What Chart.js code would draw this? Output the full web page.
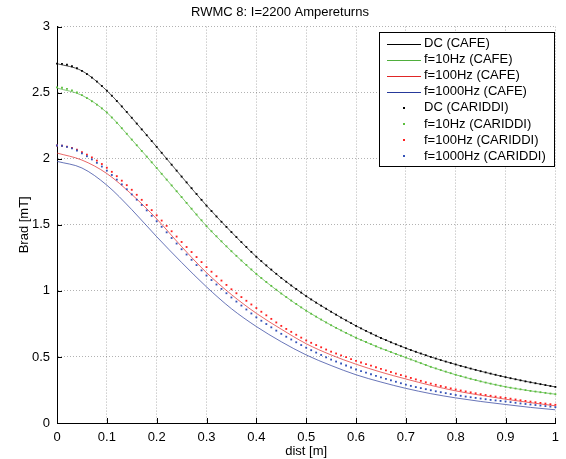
<!DOCTYPE html>
<html><head><meta charset="utf-8">
<script src="https://cdn.jsdelivr.net/npm/chart.js@4.4.1/dist/chart.umd.min.js"></script>
<style>html,body{margin:0;padding:0;background:#fff;} canvas{display:block;}</style>
</head><body>
<canvas id="c" width="566" height="459"></canvas>
<script>
const titleText = 'RWMC 8: I=2200 Ampereturns';
const xTitle = 'dist [m]';
const yTitle = 'Brad [mT]';
const xTickLabels = ['0','0.1','0.2','0.3','0.4','0.5','0.6','0.7','0.8','0.9','1'];
const yTickLabels = ['0','0.5','1','1.5','2','2.5','3'];
const seriesNames = ['DC (CAFE)','f=10Hz (CAFE)','f=100Hz (CAFE)','f=1000Hz (CAFE)',
  'DC (CARIDDI)','f=10Hz (CARIDDI)','f=100Hz (CARIDDI)','f=1000Hz (CARIDDI)'];

// CAFE curves (continuous lines)
const distCafe = [0,0.05,0.1,0.15,0.2,0.25,0.3,0.35,0.4,0.45,0.5,0.55,0.6,0.65,0.7,0.75,0.8,0.85,0.9,0.95,1];
const dcCafe    = [2.72,2.665,2.515,2.31,2.09,1.865,1.645,1.445,1.258,1.098,0.96,0.842,0.735,0.643,0.566,0.5,0.443,0.392,0.347,0.308,0.273];
const f10Cafe   = [2.535,2.48,2.35,2.145,1.93,1.71,1.49,1.30,1.128,0.98,0.85,0.74,0.645,0.565,0.495,0.425,0.365,0.315,0.274,0.243,0.218];
const f100Cafe  = [2.043,1.99,1.888,1.73,1.545,1.335,1.138,0.972,0.83,0.71,0.60,0.515,0.445,0.385,0.333,0.285,0.243,0.21,0.18,0.154,0.13];
const f1000Cafe = [1.98,1.93,1.80,1.615,1.41,1.215,1.03,0.865,0.73,0.615,0.515,0.435,0.365,0.31,0.262,0.222,0.19,0.163,0.14,0.118,0.10];

// CARIDDI results (dots)
const distCariddi = [0,0.01,0.02,0.03,0.04,0.05,0.06,0.07,0.08,0.09,
  0.1,0.11,0.12,0.13,0.14,0.15,0.16,0.17,0.18,0.19,
  0.2,0.21,0.22,0.23,0.24,0.25,0.26,0.27,0.28,0.29,
  0.3,0.31,0.32,0.33,0.34,0.35,0.36,0.37,0.38,0.39,
  0.4,0.41,0.42,0.43,0.44,0.45,0.46,0.47,0.48,0.49,
  0.5,0.51,0.52,0.53,0.54,0.55,0.56,0.57,0.58,0.59,
  0.6,0.61,0.62,0.63,0.64,0.65,0.66,0.67,0.68,0.69,
  0.7,0.71,0.72,0.73,0.74,0.75,0.76,0.77,0.78,0.79,
  0.8,0.81,0.82,0.83,0.84,0.85,0.86,0.87,0.88,0.89,
  0.9,0.91,0.92,0.93,0.94,0.95,0.96,0.97,0.98,0.99,1];
const dcCariddi = [2.720,2.718,2.711,2.700,2.685,2.665,2.641,2.614,2.584,2.551,
  2.515,2.477,2.437,2.396,2.354,2.310,2.266,2.222,2.178,2.134,
  2.090,2.045,2.000,1.955,1.910,1.865,1.821,1.777,1.733,1.689,
  1.645,1.604,1.563,1.523,1.484,1.445,1.407,1.369,1.332,1.295,
  1.258,1.225,1.193,1.161,1.129,1.098,1.069,1.041,1.014,0.987,
  0.960,0.935,0.911,0.888,0.865,0.842,0.820,0.798,0.777,0.756,
  0.735,0.716,0.697,0.679,0.661,0.643,0.627,0.611,0.596,0.581,
  0.566,0.552,0.539,0.526,0.513,0.500,0.488,0.476,0.465,0.454,
  0.443,0.432,0.422,0.412,0.402,0.392,0.383,0.374,0.365,0.356,
  0.347,0.339,0.331,0.323,0.315,0.308,0.301,0.294,0.287,0.280,0.273];
const f10Cariddi = [2.540,2.537,2.529,2.517,2.501,2.481,2.459,2.435,2.409,2.381,
  2.350,2.312,2.272,2.231,2.189,2.145,2.102,2.059,2.016,1.973,
  1.930,1.886,1.842,1.798,1.754,1.710,1.666,1.622,1.578,1.534,
  1.490,1.451,1.413,1.375,1.337,1.300,1.265,1.230,1.196,1.162,
  1.128,1.097,1.067,1.038,1.009,0.980,0.953,0.927,0.901,0.875,
  0.850,0.827,0.805,0.783,0.761,0.740,0.720,0.701,0.682,0.663,
  0.645,0.629,0.613,0.597,0.581,0.565,0.551,0.537,0.523,0.509,
  0.495,0.481,0.467,0.453,0.439,0.425,0.413,0.401,0.389,0.377,
  0.365,0.355,0.345,0.335,0.325,0.315,0.306,0.298,0.290,0.282,
  0.274,0.267,0.261,0.255,0.249,0.243,0.238,0.233,0.228,0.223,0.218];
const f100Cariddi = [2.100,2.098,2.092,2.082,2.068,2.050,2.031,2.010,1.986,1.960,
  1.932,1.901,1.868,1.834,1.800,1.765,1.727,1.689,1.650,1.611,
  1.572,1.532,1.492,1.451,1.411,1.370,1.332,1.294,1.256,1.218,
  1.180,1.145,1.111,1.078,1.045,1.012,0.982,0.953,0.925,0.897,
  0.870,0.842,0.815,0.788,0.761,0.735,0.712,0.690,0.668,0.646,
  0.625,0.607,0.590,0.573,0.556,0.540,0.526,0.512,0.498,0.484,
  0.470,0.458,0.446,0.434,0.422,0.410,0.398,0.386,0.374,0.363,
  0.352,0.341,0.330,0.319,0.308,0.298,0.289,0.280,0.271,0.262,
  0.254,0.246,0.239,0.232,0.225,0.218,0.212,0.206,0.200,0.195,
  0.190,0.184,0.178,0.172,0.167,0.162,0.157,0.152,0.147,0.142,0.138];
const f1000Cariddi = [2.100,2.098,2.090,2.078,2.062,2.040,2.019,1.995,1.969,1.941,
  1.910,1.877,1.842,1.806,1.769,1.730,1.690,1.650,1.609,1.568,
  1.527,1.485,1.443,1.400,1.358,1.315,1.275,1.235,1.195,1.155,
  1.116,1.082,1.048,1.015,0.982,0.950,0.919,0.889,0.859,0.829,
  0.800,0.774,0.749,0.724,0.699,0.675,0.653,0.632,0.611,0.590,
  0.570,0.551,0.533,0.515,0.497,0.480,0.465,0.450,0.435,0.420,
  0.405,0.393,0.381,0.369,0.357,0.345,0.334,0.323,0.312,0.301,
  0.290,0.281,0.272,0.264,0.256,0.248,0.240,0.233,0.226,0.219,
  0.212,0.206,0.200,0.195,0.190,0.185,0.180,0.175,0.171,0.167,
  0.163,0.158,0.153,0.148,0.144,0.140,0.136,0.132,0.128,0.124,0.120];

const lineColors = ['#000000','#4fae3c','#e02626','#26399a'];
const dotColors  = ['#000000','#5cbf3e','#ff2020','#3352b8'];

function pts(xs, ys){ return xs.map((x,i)=>({x:x, y:ys[i]})); }

const cafeSets = [dcCafe,f10Cafe,f100Cafe,f1000Cafe];
const cariddiSets = [dcCariddi,f10Cariddi,f100Cariddi,f1000Cariddi];
const datasets = [];
cafeSets.forEach((ys,i)=>datasets.push({
  label: seriesNames[i], data: pts(distCafe, ys), showLine:true,
  borderColor: lineColors[i], backgroundColor: lineColors[i], borderWidth: 0.7,
  pointRadius:0, cubicInterpolationMode:'monotone', order: 10 - i, kind:'line'
}));
cariddiSets.forEach((ys,i)=>datasets.push({
  label: seriesNames[4+i], data: pts(distCariddi, ys), showLine:false,
  borderColor: dotColors[i], backgroundColor: dotColors[i], borderWidth:0,
  pointStyle:'rect', pointRadius:1.3, pointHoverRadius:1.3, order: 4 - i, clip:false, kind:'dot'
}));

const FONT = "'Liberation Sans', Arial, Helvetica, sans-serif";
Chart.defaults.font.family = FONT;
Chart.defaults.font.size = 13;
Chart.defaults.color = '#000';

const inwardTicks = {
  id:'inwardTicks',
  afterDraw(chart){
    const {ctx, chartArea:a, scales:{x,y}} = chart;
    ctx.save(); ctx.strokeStyle='#000'; ctx.lineWidth=1; ctx.setLineDash([]);
    ctx.beginPath();
    x.ticks.forEach(t=>{ const px=Math.round(x.getPixelForValue(t.value))+0.5; ctx.moveTo(px,a.bottom); ctx.lineTo(px,a.bottom-5); });
    y.ticks.forEach(t=>{ const py=Math.round(y.getPixelForValue(t.value))+0.5; ctx.moveTo(a.left,py); ctx.lineTo(a.left+5,py); });
    ctx.stroke(); ctx.restore();
  }
};

const boxLegend = {
  id:'boxLegend',
  afterDraw(chart){
    const ctx = chart.ctx;
    const bx=379.5, by=32.5, bw=175, bh=134;
    ctx.save();
    ctx.setLineDash([]);
    ctx.fillStyle='#fff'; ctx.fillRect(bx,by,bw,bh);
    ctx.strokeStyle='#000'; ctx.lineWidth=1; ctx.strokeRect(bx,by,bw,bh);
    ctx.font = '13px ' + FONT; ctx.textBaseline='middle'; ctx.textAlign='left';
    chart.data.datasets.forEach((ds,i)=>{
      const yy = 43.5 + i*16.1;
      if(ds.kind==='line'){
        ctx.strokeStyle=ds.borderColor; ctx.lineWidth=1;
        ctx.beginPath(); ctx.moveTo(387,Math.round(yy)+0.5); ctx.lineTo(421,Math.round(yy)+0.5); ctx.stroke();
      } else {
        ctx.fillStyle=ds.backgroundColor; ctx.fillRect(403,Math.round(yy)-1,2,2);
      }
      ctx.fillStyle='#000'; ctx.fillText(ds.label, 424, yy);
    });
    ctx.restore();
  }
};

new Chart(document.getElementById('c'), {
  type:'scatter',
  data:{datasets},
  options:{
    responsive:false, animation:false, devicePixelRatio:1,
    layout:{padding:{left:0,right:6,top:0,bottom:0}},
    plugins:{
      legend:{display:false}, tooltip:{enabled:false},
      title:{display:true, text:titleText, color:'#000', font:{size:13, weight:'normal', lineHeight:1.2}, padding:{top:5,bottom:6}}
    },
    scales:{
      x:{type:'linear', min:0, max:1,
        ticks:{stepSize:0.1, padding:7, maxRotation:0, autoSkip:false, callback:(v,i)=>xTickLabels[i]},
        grid:{color:'rgba(0,0,0,0.3)', lineWidth:1, drawTicks:false},
        border:{display:true, color:'#000', width:1, dash:[1,2]},
        title:{display:true, text:xTitle, padding:{top:0,bottom:0}},
        afterFit:(s)=>{ s.height = 36; }
      },
      y:{type:'linear', min:0, max:3,
        ticks:{stepSize:0.5, padding:7, callback:(v,i)=>yTickLabels[i]},
        grid:{color:'rgba(0,0,0,0.3)', lineWidth:1, drawTicks:false},
        border:{display:true, color:'#000', width:1, dash:[1,2]},
        title:{display:true, text:yTitle, padding:{top:17,bottom:0}},
        afterFit:(s)=>{ s.width = 57; }
      }
    }
  },
  plugins:[inwardTicks, boxLegend]
});
</script>
</body></html>
